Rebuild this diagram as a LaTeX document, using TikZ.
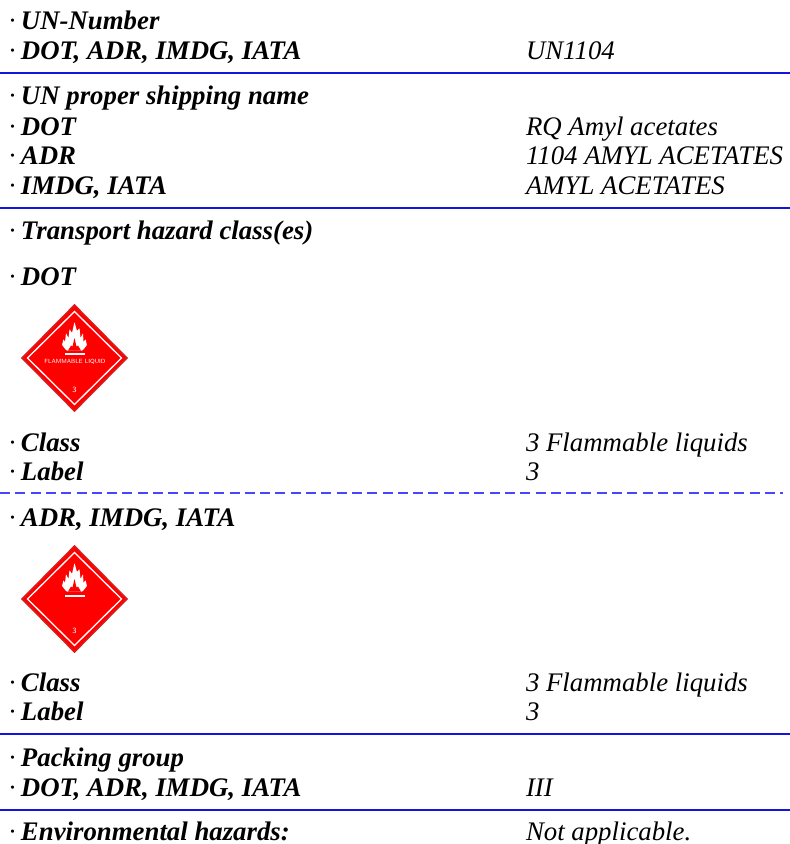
\documentclass[tikz,border=0pt]{standalone}
\usepackage{fontspec}
\setmainfont{Liberation Serif}
\definecolor{rulebl}{RGB}{20,20,225}
\definecolor{dashblue}{RGB}{70,70,255}
\definecolor{hazred}{RGB}{255,0,0}
\definecolor{hazedge}{RGB}{215,30,30}
\tikzset{
  lbl/.style={anchor=base west,inner sep=0pt,outer sep=0pt,font=\fontsize{26.8}{26.8}\selectfont\bfseries\itshape},
  val/.style={anchor=base west,inner sep=0pt,outer sep=0pt,font=\fontsize{26.8}{26.8}\selectfont\itshape},
  hrule/.style={draw=rulebl,line width=1.5pt},
  drule/.style={draw=dashblue,line width=1.6pt,dash pattern=on 10pt off 5.3pt},
  haz/.style={fill=hazred,draw=hazedge,line width=1.5pt},
  hazin/.style={draw=white,line width=1.3pt,fill=none},
  hazt/.style={inner sep=0pt,text=white}
}
\newcommand{\bul}{\makebox[12pt][l]{\normalfont\itshape\textperiodcentered}}
\newcommand{\hazsign}[2]{%
  \begin{scope}[shift={(74.5,#1)}]
    \path[haz] (0,-53) -- (52.5,0) -- (0,53) -- (-52.5,0) -- cycle;
    \path[hazin] (0,-46.5) -- (47,0) -- (0,46.5) -- (-47,0) -- cycle;
    \fill[white,rounded corners=0.7pt] (-8,-7.5) -- (-12.5,-13) -- (-11,-19) -- (-9.5,-16) -- (-8.5,-25)
      -- (-6,-20) -- (-5,-29) -- (-2.5,-25) -- (0,-36) -- (2.5,-27) -- (5,-30) -- (6,-20)
      -- (8.5,-25) -- (9,-16) -- (11,-19) -- (12.5,-13) -- (8,-7.5) -- cycle;
    \fill[hazred] (-6.5,-7.5) -- (-3.5,-12.5) -- (-2,-11.5) -- (0,-20) -- (2,-11.5) -- (3.5,-12.5) -- (6.5,-7.5) -- cycle;
    \fill[white] (-10,#2) rectangle (10,#2+1.7);
  \end{scope}}
\begin{document}
\begin{tikzpicture}[x=1pt,y=-1pt]
\useasboundingbox (0,0) rectangle (790,844);
\fill[white] (0,0) rectangle (790,844);
% section 1
\node[lbl] (a1) at (9,29) {\bul UN-Number};
\node[lbl] (a2) at (9,59) {\bul DOT, ADR, IMDG, IATA};
\node[val] (a3) at (526,59) {UN1104};
\path[hrule] (0,73) -- (790,73);
% section 2
\node[lbl] (b1) at (9,104) {\bul UN proper shipping name};
\node[lbl] (b2) at (9,135) {\bul DOT};
\node[val] (b3) at (526,135) {RQ Amyl acetates};
\node[lbl] (b4) at (9,164) {\bul ADR};
\node[val] (b5) at (526,164) {1104 AMYL ACETATES};
\node[lbl] (b6) at (9,194) {\bul IMDG, IATA};
\node[val] (b7) at (526,194) {AMYL ACETATES};
\path[hrule] (0,208) -- (790,208);
% section 3
\node[lbl] (c1) at (9,239) {\bul Transport hazard class(es)};
\node[lbl] (c2) at (9,285) {\bul DOT};
\hazsign{358}{-5}
\node[hazt,font=\fontsize{6}{6}\selectfont\sffamily] (c3) at (75,362) {FLAMMABLE LIQUID};
\node[hazt,font=\fontsize{8}{8}\selectfont\sffamily] (c4) at (74.5,390) {3};
\node[lbl] (c5) at (9,451) {\bul Class};
\node[val] (c6) at (526,451) {3 Flammable liquids};
\node[lbl] (c7) at (9,480) {\bul Label};
\node[val] (c8) at (526,480) {3};
\path[drule] (0,493) -- (783,493);
% section 4
\node[lbl] (d1) at (9,526) {\bul ADR, IMDG, IATA};
\hazsign{599}{-4}
\node[hazt,font=\fontsize{8}{8}\selectfont\sffamily] (d2) at (74.5,631) {3};
\node[lbl] (d3) at (9,691) {\bul Class};
\node[val] (d4) at (526,691) {3 Flammable liquids};
\node[lbl] (d5) at (9,720) {\bul Label};
\node[val] (d6) at (526,720) {3};
\path[hrule] (0,734) -- (790,734);
% section 5
\node[lbl] (e1) at (9,766) {\bul Packing group};
\node[lbl] (e2) at (9,796) {\bul DOT, ADR, IMDG, IATA};
\node[val] (e3) at (526,796) {III};
\path[hrule] (0,810) -- (790,810);
% section 6
\node[lbl] (f1) at (9,840) {\bul Environmental hazards:};
\node[val] (f2) at (526,840) {Not applicable.};
\end{tikzpicture}
\end{document}
